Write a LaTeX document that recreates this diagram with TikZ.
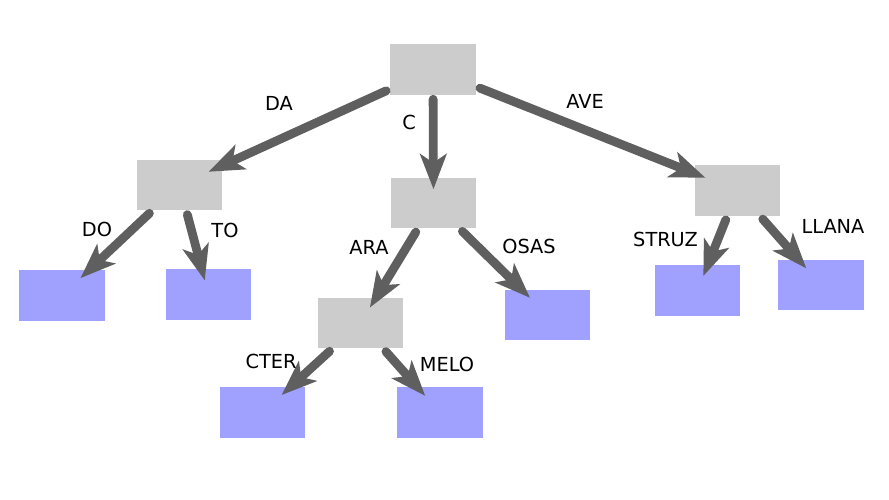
\documentclass[tikz,border=0pt]{standalone}
\usepackage{fontspec}
\setmainfont{DejaVu Sans}
\usetikzlibrary{arrows.meta}
\definecolor{inner}{HTML}{CCCCCC}
\definecolor{leaf}{HTML}{A0A0FF}
\definecolor{link}{HTML}{5F5F5F}
\tikzset{
  trie/.style={outer sep=0, inner sep=0, minimum width=1.71cm, minimum height=1.01cm},
  inbox/.style={trie, fill=inner},
  leafbox/.style={trie, fill=leaf},
  link/.style={draw=link, line width=5pt, line cap=round,
    -{Stealth[length=20pt, width=15pt, inset=5pt]},
    shorten <=0.09cm, shorten >=-0.23cm},
  tag/.style={inner sep=0, font=\fontsize{11}{13}\selectfont}
}
\begin{document}
\begin{tikzpicture}[x=0.02cm, y=-0.02cm]
        \useasboundingbox (0,0) rectangle (889,500);

        % inner nodes
        \node [inbox] (root) at (433,69.5) {};
        \node [inbox] (da) at (179.5,185) {};
        \node [inbox] (c) at (433.5,203) {};
        \node [inbox] (ave) at (737.5,190.5) {};
        \node [inbox] (ara) at (360.5,323) {};

        % leaves
        \node [leafbox] (do) at (62,295.5) {};
        \node [leafbox] (to) at (208.5,294.5) {};
        \node [leafbox] (osas) at (547.5,315) {};
        \node [leafbox] (struz) at (697.5,290.5) {};
        \node [leafbox] (llana) at (821,285) {};
        \node [leafbox] (cter) at (262.5,412.5) {};
        \node [leafbox] (melo) at (440,412.5) {};

        % links
        \draw [link, shorten >=-0.3cm] (root) -- (da);
        \draw [link] (root) -- (c);
        \draw [link] (root) -- (ave);
        \draw [link] (da) -- (do);
        \draw [link] (da) -- (to);
        \draw [link] (c) -- (ara);
        \draw [link] (c) -- (osas);
        \draw [link] (ave) -- (struz);
        \draw [link] (ave) -- (llana);
        \draw [link] (ara) -- (cter);
        \draw [link] (ara) -- (melo);

        % labels
        \node [tag] (t-da) at (279,103.5) {DA};
        \node [tag] (t-c) at (409,122) {C};
        \node [tag] (t-ave) at (585,101) {AVE};
        \node [tag] (t-do) at (97,229) {DO};
        \node [tag] (t-to) at (225,230) {TO};
        \node [tag] (t-ara) at (369,247.5) {ARA};
        \node [tag] (t-osas) at (529,246) {OSAS};
        \node [tag] (t-struz) at (665.5,239) {STRUZ};
        \node [tag] (t-llana) at (833,226.5) {LLANA};
        \node [tag] (t-cter) at (271,361) {CTER};
        \node [tag] (t-melo) at (447,364) {MELO};
      \end{tikzpicture}
\end{document}
